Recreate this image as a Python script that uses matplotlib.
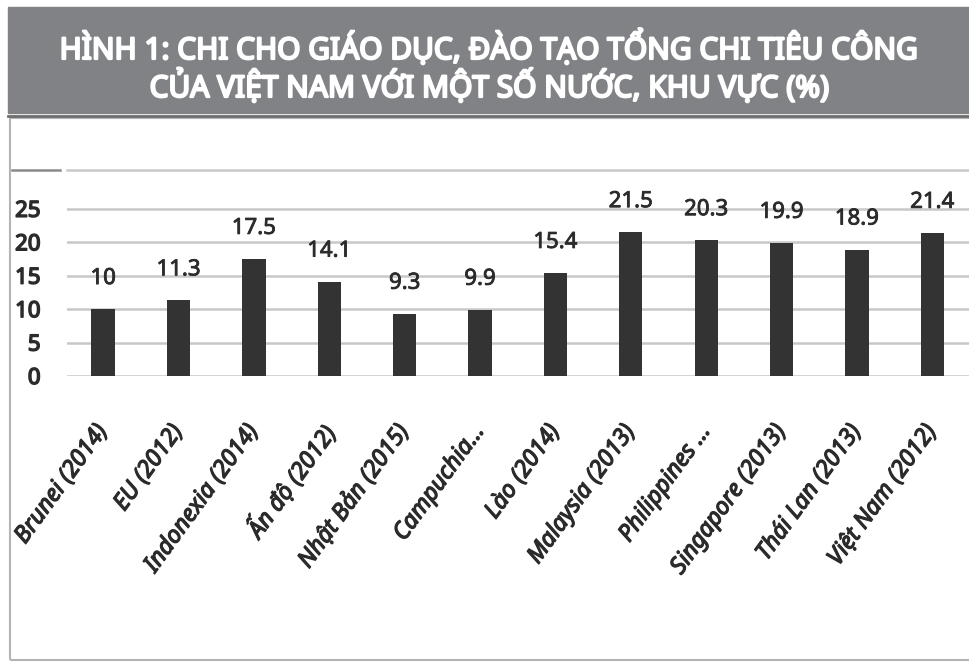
import matplotlib
matplotlib.use("Agg")
import matplotlib.pyplot as plt
import matplotlib.transforms as mtransforms
import matplotlib.patheffects as pe
from matplotlib.patches import Rectangle
from matplotlib.lines import Line2D

# Dữ liệu
nuoc = ["Brunei (2014)", "EU (2012)", "Indonexia (2014)", "Ấn độ (2012)",
        "Nhật Bản (2015)", "Campuchia...", "Lào (2014)", "Malaysia (2013)",
        "Philippines ...", "Singapore (2013)", "Thái Lan (2013)", "Việt Nam (2012)"]
gia_tri = [10, 11.3, 17.5, 14.1, 9.3, 9.9, 15.4, 21.5, 20.3, 19.9, 18.9, 21.4]
nhan_gia_tri = ["10", "11.3", "17.5", "14.1", "9.3", "9.9", "15.4", "21.5",
                "20.3", "19.9", "18.9", "21.4"]
y_ticks = [0, 5, 10, 15, 20, 25]

tieu_de_1 = "HÌNH 1: CHI CHO GIÁO DỤC, ĐÀO TẠO TỔNG CHI TIÊU CÔNG"
tieu_de_2 = "CỦA VIỆT NAM VỚI MỘT SỐ NƯỚC, KHU VỰC (%)"

FONT = ["Noto Sans", "DejaVu Sans"]
W, H = 970, 667
CHU = "#2b2b2b"


def dam(mau, w):
    # làm chữ đậm hơn bằng nét viền cùng màu
    return [pe.withStroke(linewidth=w, foreground=mau)]


fig = plt.figure(figsize=(W / 100, H / 100), dpi=100)

# Khung tiêu đề màu xám
fig.patches.append(Rectangle((8 / W, 1 - 113 / H), 962 / W, 106 / H,
                             transform=fig.transFigure, color="#808285", zorder=0))
for y, txt in [(48, tieu_de_1), (87, tieu_de_2)]:
    fig.text(0.505, 1 - y / H, txt, ha="center", va="center", color="white",
             fontsize=21.5, fontstretch="condensed", family=FONT,
             path_effects=dam("white", 1.6))

# Khung biểu đồ
fig.lines.append(Line2D([8 / W, 1], [1 - 116 / H] * 2, transform=fig.transFigure,
                        color="#6d6e70", lw=2))
fig.patches.append(Rectangle((10 / W, 1 - 660 / H), 962 / W, 542 / H,
                             transform=fig.transFigure, fill=False,
                             edgecolor="#b4b4b4", lw=1.5))
fig.lines.append(Line2D([12 / W, 60 / W], [1 - 170 / H] * 2, transform=fig.transFigure,
                        color="#8a8a8a", lw=1.8))

ax = fig.add_axes([67 / W, 1 - 376 / H, (W - 67) / W, (376 - 170) / H])
x = list(range(len(nuoc)))
ax.bar(x, gia_tri, width=0.31, color="#333333", zorder=3)

for i, v in enumerate(gia_tri):
    ax.annotate(nhan_gia_tri[i], (i, v), xytext=(0, 22), textcoords="offset points",
                ha="center", va="center", fontsize=16, color=CHU,
                fontstretch="extra-condensed", family=FONT,
                path_effects=dam(CHU, 0.6))

ax.set_xlim(-0.48, len(nuoc) - 0.5)
ax.set_ylim(0, 30.8)
ax.set_yticks(y_ticks)
ax.set_yticklabels([str(t) for t in y_ticks], fontsize=16,
                   fontstretch="extra-condensed", color=CHU, family=FONT)
for lbl in ax.get_yticklabels():
    lbl.set_path_effects(dam(CHU, 1.1))
ax.yaxis.grid(True, color="#c8c8c8", lw=1.8, zorder=0)
ax.set_axisbelow(True)
ax.tick_params(axis="both", length=0)
ax.tick_params(axis="y", pad=19)

ax.set_xticks(x)
ax.set_xticklabels(nuoc, rotation=54, ha="right", rotation_mode="anchor",
                   fontsize=17, fontstyle="italic",
                   fontstretch="semi-condensed", color=CHU, family=FONT)
ax.tick_params(axis="x", pad=32)
offset = mtransforms.ScaledTranslation(-10 / 100, 0, fig.dpi_scale_trans)
for lbl in ax.get_xticklabels():
    lbl.set_transform(lbl.get_transform() + offset)
    lbl.set_path_effects(dam(CHU, 0.9))

for s in ["left", "right", "bottom"]:
    ax.spines[s].set_visible(False)
ax.spines["top"].set_color("#c8c8c8")
ax.spines["top"].set_linewidth(1.8)

fig.savefig("out.png", dpi=100)
